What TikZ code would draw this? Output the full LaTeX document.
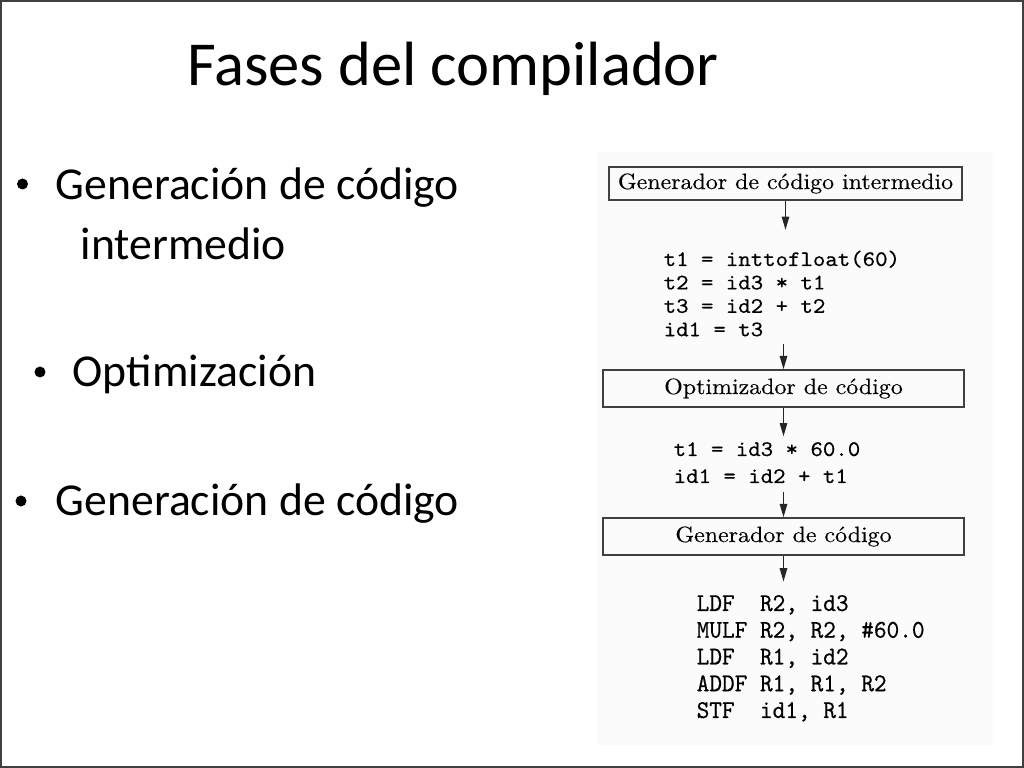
\documentclass[tikz,border=0pt]{standalone}
\usepackage{fontspec}
\usetikzlibrary{arrows.meta}
\newfontfamily\slidefont{Carlito}
\newfontfamily\scanserif{lmroman10-regular.otf}[FakeStretch=1.08,FakeBold=0.3]
\newfontfamily\scanmono{lmmono10-regular.otf}[FakeStretch=1.07,FakeBold=0.4]
\newfontfamily\asmfont{lmmono10-regular.otf}[FakeStretch=0.94,FakeBold=0.4]

\tikzset{
  phase/.style={draw=black!75, line width=0.4pt, inner sep=0pt,
    font=\scanserif\fontsize{6.3}{7}\selectfont},
  flow/.style={draw=black!85, line width=0.45pt, -{Triangle[length=3.8pt,width=2.1pt]}},
  item/.style={anchor=base west, inner sep=0pt, font=\slidefont\fontsize{13}{15}\selectfont},
  bulletdot/.style={circle, fill=black, inner sep=0pt, minimum size=0.11cm},
  codeline/.style={anchor=base west, inner sep=0pt}
}

\begin{document}
\begin{tikzpicture}
    \useasboundingbox (0, 0) rectangle (10.24, 7.68);
    \fill[white] (0, 0) rectangle (10.24, 7.68);
    \fill[black!1.5] (5.97, 0.23) rectangle (9.94, 6.16);
    \draw[black!75, line width=0.6pt] (0.01, 0.01) rectangle (10.23, 7.67);

    \node[anchor=base, inner sep=0pt, font=\slidefont\fontsize{17.8}{21}\selectfont] (title) at (4.53, 6.82) {Fases del compilador};

    \node[bulletdot] (dot1) at (0.225, 5.84) {};
    \node[item] (gen1) at (0.55, 5.68) {Generación de código};
    \node[item] (gen1b) at (0.80, 5.08) {intermedio};
    \node[bulletdot] (dot2) at (0.40, 3.96) {};
    \node[item] (opt) at (0.72, 3.81) {Optimización};
    \node[bulletdot] (dot3) at (0.21, 2.67) {};
    \node[item] (gen2) at (0.55, 2.52) {Generación de código};

    % diagrama escaneado
    \node[phase, minimum width=3.53cm, minimum height=0.33cm] (irgen) at (7.855, 5.845) {Generador de código intermedio};
    \node[codeline, font=\scanmono\fontsize{6.3}{6.66}\selectfont] (ircode) at (6.63, 5.02)
      {\begin{tabular}[t]{@{}l@{}}t1 = inttofloat(60)\\ t2 = id3 * t1\\ t3 = id2 + t2\\ id1 = t3\end{tabular}};
    \node[phase, minimum width=3.61cm, minimum height=0.37cm] (optim) at (7.835, 3.795) {Optimizador de código};
    \node[codeline, font=\scanmono\fontsize{6.3}{7.68}\selectfont] (optcode) at (6.73, 3.12)
      {\begin{tabular}[t]{@{}l@{}}t1 = id3 * 60.0\\ id1 = id2 + t1\end{tabular}};
    \node[phase, minimum width=3.61cm, minimum height=0.37cm] (codegen) at (7.835, 2.315) {Generador de código};
    \node[codeline, font=\asmfont\fontsize{7.3}{7.61}\selectfont] (asmcode) at (6.96, 1.57)
      {\begin{tabular}[t]{@{}l@{}}LDF~~R2, id3\\ MULF R2, R2, \#60.0\\ LDF~~R1, id2\\ ADDF R1, R1, R2\\ STF~~id1, R1\end{tabular}};

    \draw[flow, shorten >=0.19cm] (irgen.south) -- (irgen.south |- ircode.north);
    \draw[flow] (optim.north |- ircode.south) -- (optim.north);
    \draw[flow] (optim.south) -- (optim.south |- optcode.north);
    \draw[flow] (codegen.north |- optcode.south) -- (codegen.north);
    \draw[flow, shorten >=0.1cm] (codegen.south) -- (codegen.south |- asmcode.north);
  \end{tikzpicture}
\end{document}
